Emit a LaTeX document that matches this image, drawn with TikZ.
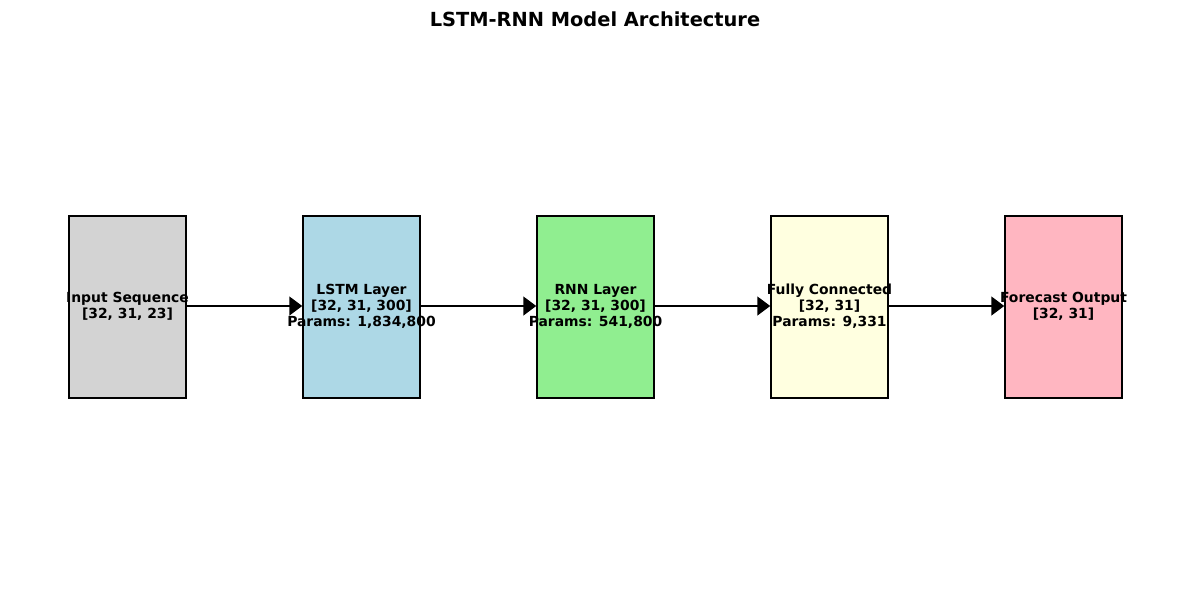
\documentclass[tikz,border=0pt]{standalone}
\usepackage{fontspec}
\setmainfont{DejaVu Sans}
\usetikzlibrary{arrows.meta}
\definecolor{cgray}{HTML}{D3D3D3}
\definecolor{cblue}{HTML}{ADD8E6}
\definecolor{cgreen}{HTML}{90EE90}
\definecolor{cyellow}{HTML}{FFFFE0}
\definecolor{cpink}{HTML}{FFB6C1}
\tikzset{
  layerbox/.style={draw=black, line width=1.5pt, minimum width=117pt, minimum height=182pt, inner sep=0pt},
  layertext/.style={align=center, inner sep=0pt, font=\fontsize{13.9}{16}\selectfont\bfseries},
  flow/.style={line width=1.5pt, -{Triangle[length=13pt,width=19pt]}}
}
\begin{document}
\begin{tikzpicture}[x=1pt, y=-1pt]
  \useasboundingbox (0,0) rectangle (1189,590);
  \node[font=\fontsize{19.4}{22}\selectfont\bfseries] (title) at (595,19) {LSTM-RNN Model Architecture};
  % layer boxes
  \node[layerbox, fill=cgray]   (b1) at (127.5,307) {};
  \node[layerbox, fill=cblue]   (b2) at (361.5,307) {};
  \node[layerbox, fill=cgreen]  (b3) at (595.5,307) {};
  \node[layerbox, fill=cyellow] (b4) at (829.5,307) {};
  \node[layerbox, fill=cpink]   (b5) at (1063.5,307) {};
  % connections
  \draw[flow] (b1.east |- 0,306) coordinate (s1) -- (b2.west |- 0,306) coordinate (e1);
  \draw[flow] (b2.east |- 0,306) -- (b3.west |- 0,306);
  \draw[flow] (b3.east |- 0,306) -- (b4.west |- 0,306);
  \draw[flow] (b4.east |- 0,306) -- (b5.west |- 0,306);
  % labels
  \node[layertext] (t1) at (127.5,306) {Input Sequence\\{}[32, 31, 23]};
  \node[layertext] (t2) at (361.5,306) {LSTM Layer\\{}[32, 31, 300]\\Params: 1,834,800};
  \node[layertext] (t3) at (595.5,306) {RNN Layer\\{}[32, 31, 300]\\Params: 541,800};
  \node[layertext] (t4) at (829.5,306) {Fully Connected\\{}[32, 31]\\Params: 9,331};
  \node[layertext] (t5) at (1063.5,306) {Forecast Output\\{}[32, 31]};
\end{tikzpicture}
\end{document}
